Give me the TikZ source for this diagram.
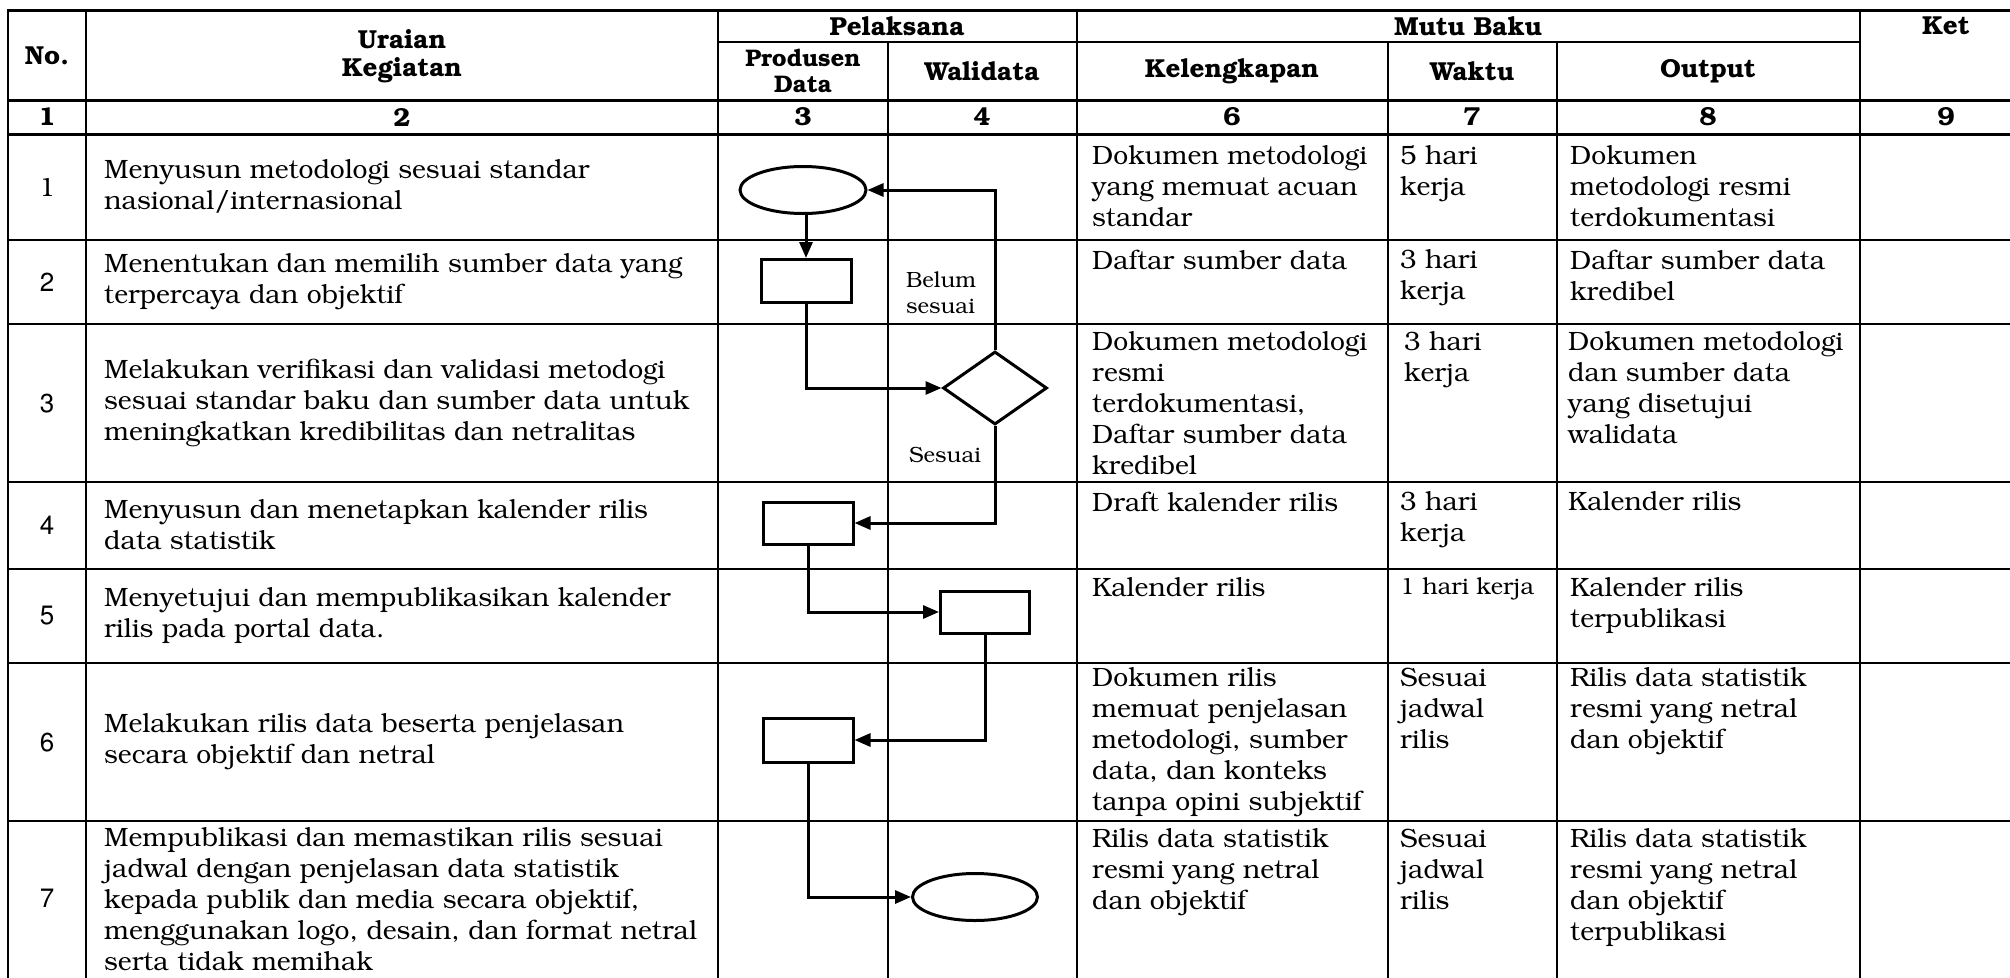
\documentclass[tikz,border=0pt]{standalone}
\usepackage[T1]{fontenc}
\usepackage{bookman}
\usetikzlibrary{arrows.meta,shapes.geometric}
\begin{document}
\begin{tikzpicture}[x=1pt,y=-1pt,
  tline/.style={line width=2.2pt,line cap=rect},
  thick line/.style={line width=3pt,line cap=rect},
  hd/.style={font=\fontsize{26}{28}\selectfont\bfseries,inner sep=0pt,align=center},
  body/.style={font=\fontsize{26.5}{31}\selectfont,inner sep=0pt,align=left},
  sans/.style={font=\fontfamily{phv}\fontsize{26}{31}\selectfont,inner sep=0pt},
  small/.style={font=\fontsize{22}{26}\selectfont,inner sep=0pt,align=left},
  shapebox/.style={draw,line width=3pt,inner sep=0pt,fill=white},
  arr/.style={line width=3pt,-{Triangle[length=16pt,width=13pt]}}
]
\fill[white] (0,0) rectangle (2010,977);
\useasboundingbox (0,0) rectangle (2010,977);

% ---------- table grid ----------
\draw[thick line] (8,10) -- (2010,10);
\draw[tline] (718,42) -- (1860,42);
\draw[thick line] (8,100) -- (2010,100);
\draw[thick line] (8,134) -- (2010,134);
\foreach \yy in {240,324,482,569,663,821}
  \draw[tline] (8,\yy) -- (2010,\yy);
\foreach \xx in {8,86,718,1077,1860}
  \draw[tline] (\xx,10) -- (\xx,977);
\foreach \xx in {888,1388,1557}
  \draw[tline] (\xx,42) -- (\xx,977);

% ---------- header ----------
\node[hd] (hno) at (47,56) {No.};
\node[hd] (hur) at (402,56) {Uraian\\Kegiatan};
\node[hd] (hpel) at (897,26) {Pelaksana};
\node[hd] (hmutu) at (1468,26) {Mutu Baku};
\node[hd] (hket) at (1946,26) {Ket};
\node[hd,font=\fontsize{24}{26}\selectfont\bfseries] (hprod) at (803,71) {Produsen\\Data};
\node[hd] (hwali) at (982,71) {Walidata};
\node[hd] (hkel) at (1232,71) {Kelengkapan};
\node[hd] (hwak) at (1472,71) {Waktu};
\node[hd] (hout) at (1708,71) {Output};
\node[hd] (c1) at (47,117) {1};
\node[hd] (c2) at (402,117) {2};
\node[hd] (c3) at (803,117) {3};
\node[hd] (c4) at (982,117) {4};
\node[hd] (c6) at (1232,117) {6};
\node[hd] (c7) at (1472,117) {7};
\node[hd] (c8) at (1708,117) {8};
\node[hd] (c9) at (1946,117) {9};

% ---------- No. column ----------
\node[body] (n1) at (47,187) {1};
\node[sans] (n2) at (47,282) {2};
\node[sans] (n3) at (47,403) {3};
\node[sans] (n4) at (47,525) {4};
\node[sans] (n5) at (47,616) {5};
\node[sans] (n6) at (47,742) {6};
\node[sans] (n7) at (47,899) {7};

% ---------- Uraian column ----------
\node[body,anchor=west] (u1) at (104,187) {Menyusun metodologi sesuai standar\\nasional/internasional};
\node[body,anchor=west] (u2) at (104,282) {Menentukan dan memilih sumber data yang\\terpercaya dan objektif};
\node[body,anchor=west] (u3) at (104,403) {Melakukan verifikasi dan validasi metodogi\\sesuai standar baku dan sumber data untuk\\meningkatkan kredibilitas dan netralitas};
\node[body,anchor=west] (u4) at (104,525) {Menyusun dan menetapkan kalender rilis\\data statistik};
\node[body,anchor=west] (u5) at (104,616) {Menyetujui dan mempublikasikan kalender\\rilis pada portal data.};
\node[body,anchor=west] (u6) at (104,742) {Melakukan rilis data beserta penjelasan\\secara objektif dan netral};
\node[body,anchor=west] (u7) at (104,899) {Mempublikasi dan memastikan rilis sesuai\\jadwal dengan penjelasan data statistik\\kepada publik dan media secara objektif,\\menggunakan logo, desain, dan format netral\\serta tidak memihak};

% ---------- Kelengkapan ----------
\node[body,anchor=north west] (k1) at (1092,146) {Dokumen metodologi\\yang memuat acuan\\standar};
\node[body,anchor=north west] (k2) at (1092,250) {Daftar sumber data};
\node[body,anchor=north west] (k3) at (1092,332) {Dokumen metodologi\\resmi\\terdokumentasi,\\Daftar sumber data\\kredibel};
\node[body,anchor=north west] (k4) at (1092,492) {Draft kalender rilis};
\node[body,anchor=north west] (k5) at (1092,578) {Kalender rilis};
\node[body,anchor=north west] (k6) at (1092,668) {Dokumen rilis\\memuat penjelasan\\metodologi, sumber\\data, dan konteks\\tanpa opini subjektif};
\node[body,anchor=north west] (k7) at (1092,829) {Rilis data statistik\\resmi yang netral\\dan objektif};

% ---------- Waktu ----------
\node[body,anchor=north west] (w1) at (1400,146) {5 hari\\kerja};
\node[body,anchor=north west] (w2) at (1400,250) {3 hari\\kerja};
\node[body,anchor=north west] (w3) at (1404,332) {3 hari\\kerja};
\node[body,anchor=north west] (w4) at (1400,492) {3 hari\\kerja};
\node[body,anchor=north west,font=\fontsize{23.5}{26}\selectfont] (w5) at (1400,578) {1 hari kerja};
\node[body,anchor=north west] (w6) at (1400,668) {Sesuai\\jadwal\\rilis};
\node[body,anchor=north west] (w7) at (1400,829) {Sesuai\\jadwal\\rilis};

% ---------- Output ----------
\node[body,anchor=north west] (o1) at (1570,146) {Dokumen\\metodologi resmi\\terdokumentasi};
\node[body,anchor=north west] (o2) at (1570,250) {Daftar sumber data\\kredibel};
\node[body,anchor=north west] (o3) at (1568,332) {Dokumen metodologi\\dan sumber data\\yang disetujui\\walidata};
\node[body,anchor=north west] (o4) at (1568,492) {Kalender rilis};
\node[body,anchor=north west] (o5) at (1570,578) {Kalender rilis\\terpublikasi};
\node[body,anchor=north west] (o6) at (1570,668) {Rilis data statistik\\resmi yang netral\\dan objektif};
\node[body,anchor=north west] (o7) at (1570,829) {Rilis data statistik\\resmi yang netral\\dan objektif\\terpublikasi};

% ---------- flowchart ----------
\node[shapebox,ellipse,minimum width=126pt,minimum height=47pt] (e1) at (803,190) {};
\node[shapebox,rectangle,minimum width=90pt,minimum height=43pt] (r1) at (806,281) {};
\node[shapebox,diamond,minimum width=104pt,minimum height=73pt] (d1) at (995,388) {};
\node[shapebox,rectangle,minimum width=90pt,minimum height=42pt] (r2) at (808,523) {};
\node[shapebox,rectangle,minimum width=89pt,minimum height=42pt] (r3) at (985,612) {};
\node[shapebox,rectangle,minimum width=90pt,minimum height=44pt] (r4) at (808,740) {};
\node[shapebox,ellipse,minimum width=125pt,minimum height=47pt] (e2) at (975,897) {};

\node[small,anchor=west] (lbelum) at (906,293) {Belum\\sesuai};
\node[small] (lsesuai) at (945,455) {Sesuai};

\draw[arr] (e1.south -| r1.north) -- (r1.north);
\draw[arr] (r1.south) |- (d1.west);
\draw[arr] (d1.north) |- (e1.east);
\draw[arr] (d1.south) |- (r2.east);
\draw[arr] (r2.south) |- (r3.west);
\draw[arr] (r3.south) |- (r4.east);
\draw[arr] (r4.south) |- (e2.west);
\end{tikzpicture}
\end{document}
